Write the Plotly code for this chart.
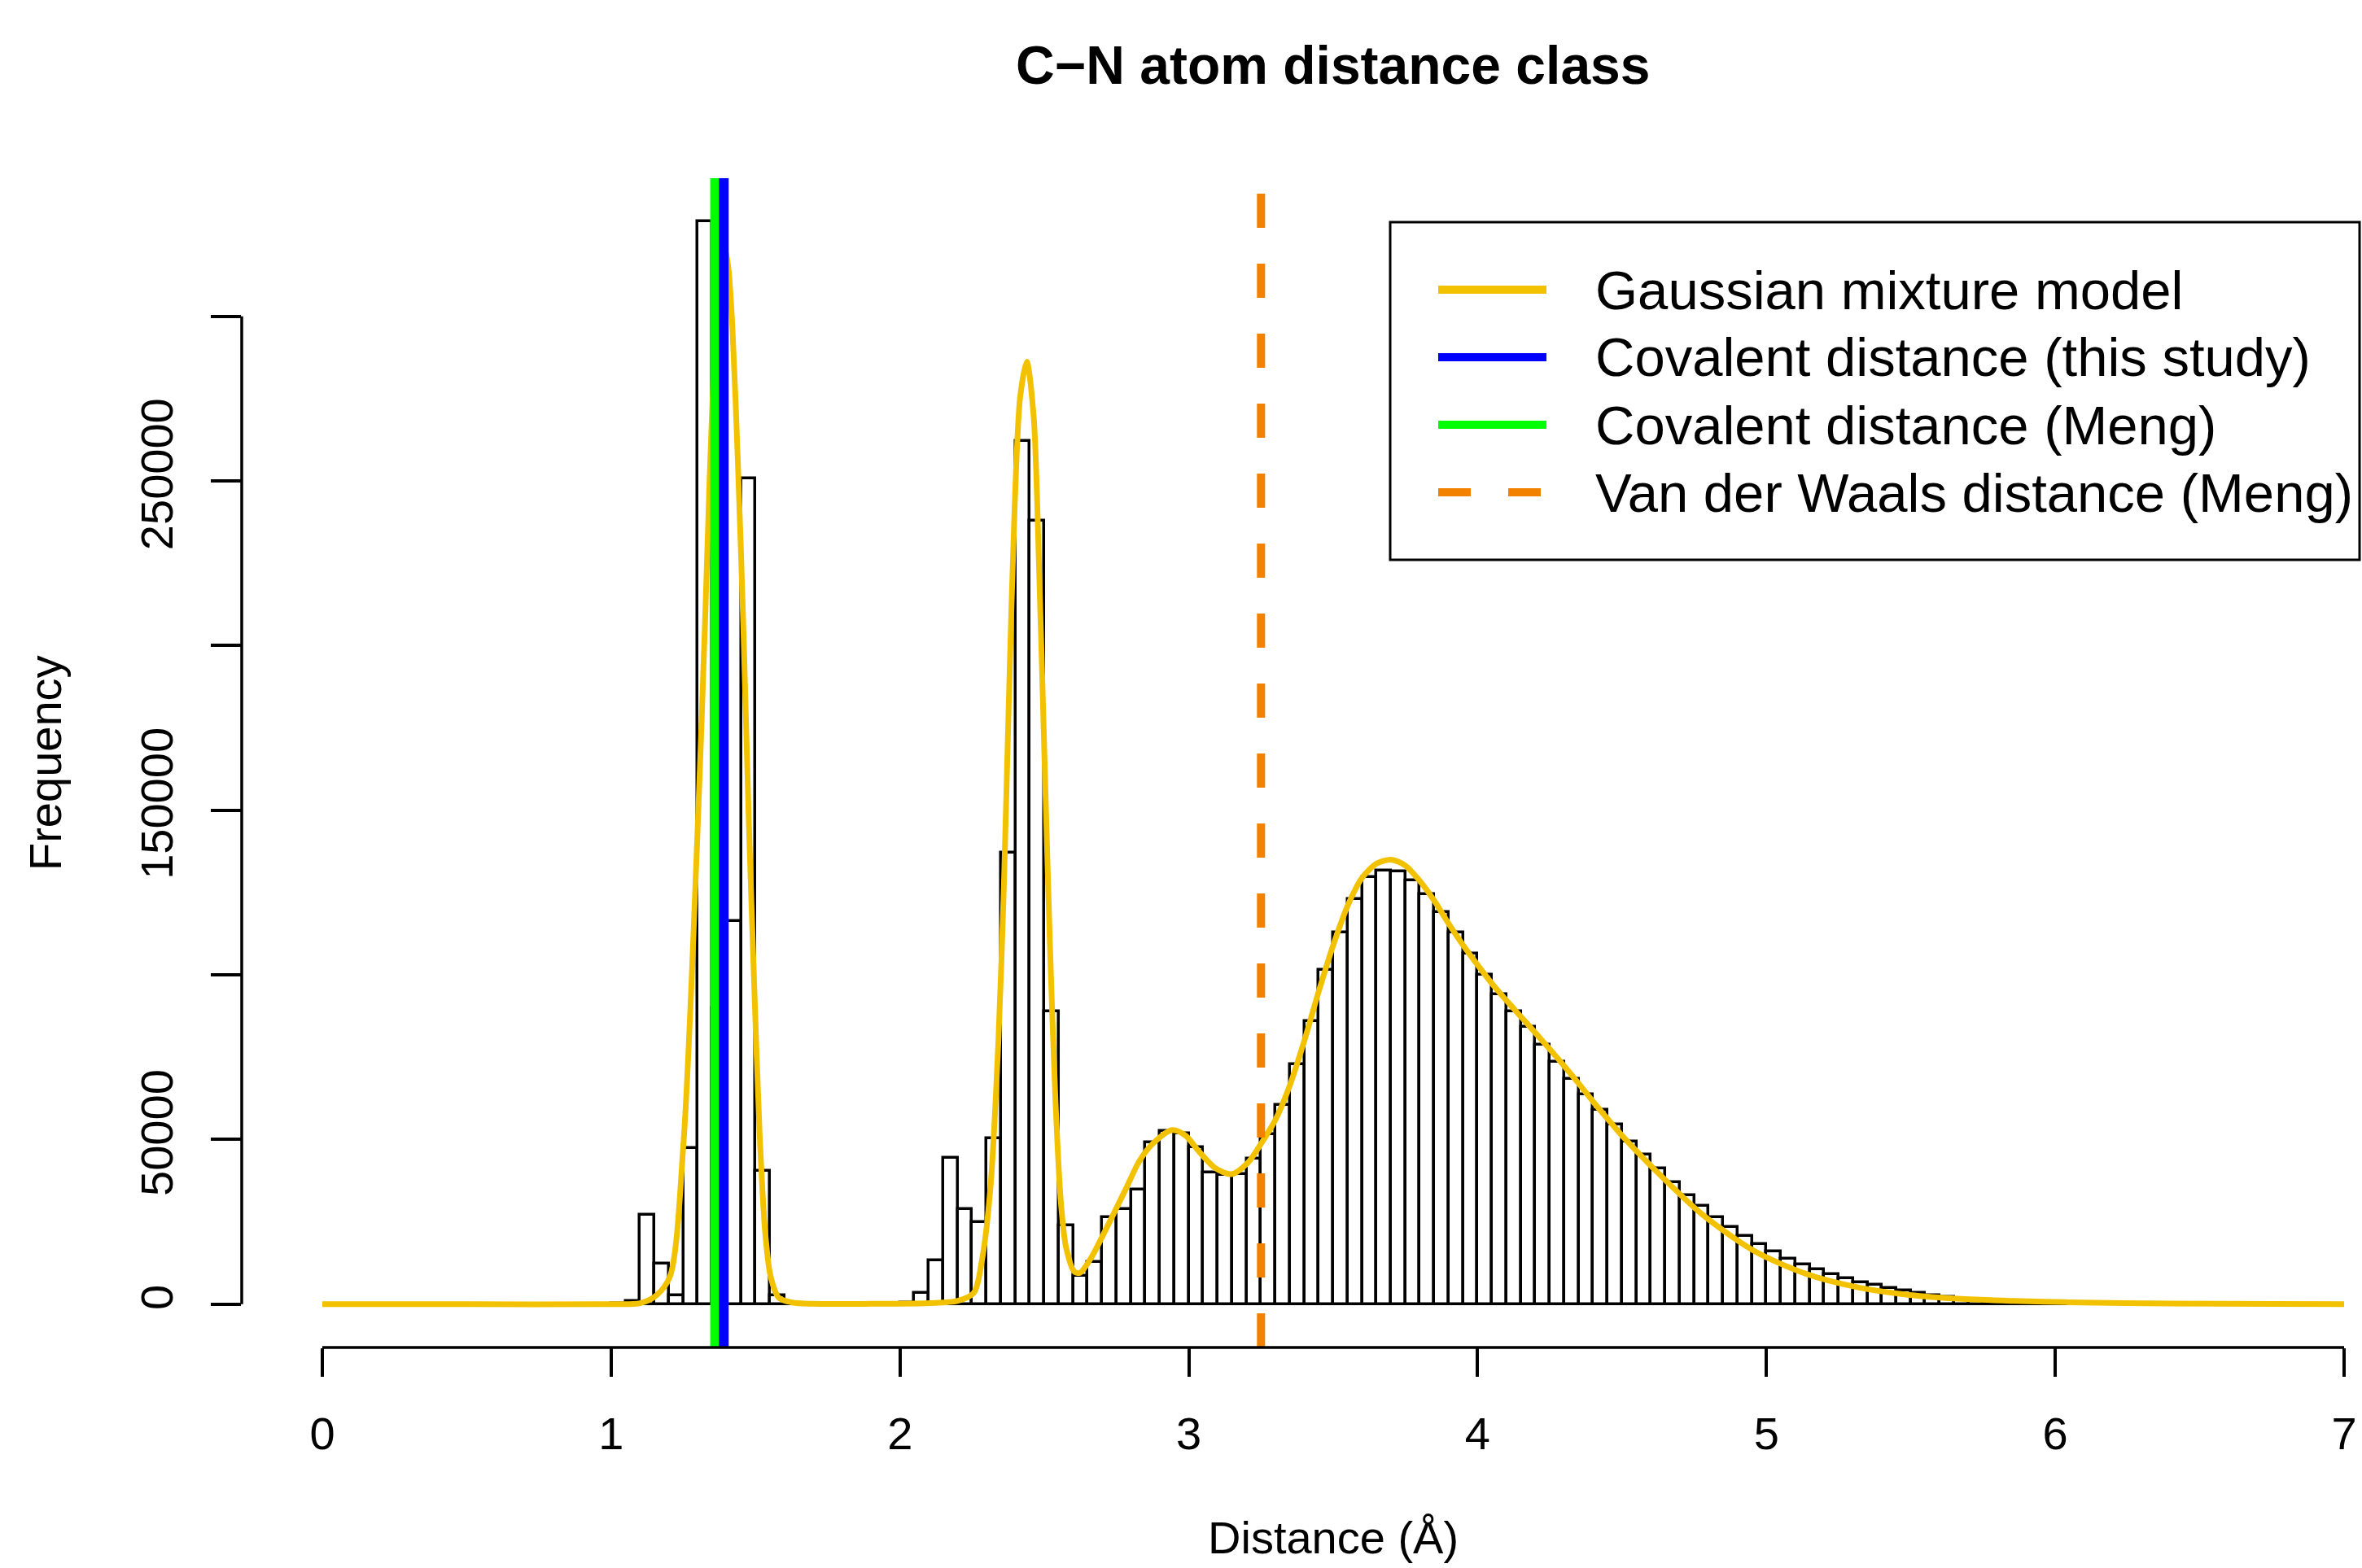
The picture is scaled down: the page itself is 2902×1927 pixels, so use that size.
import numpy as np
import plotly.graph_objects as go

# ---------------- data ----------------
bin_width = 0.05
first_bin_left = 1.00
# histogram counts, bins of 0.05 Å starting at 1.00 Å
counts = [
    200, 1000, 27200, 12300, 2700, 47300, 328800, 90000, 116300, 250700,   # 1.00-1.45
    40400, 2700, 300, 100, 50, 50, 50, 100, 100, 200,                      # 1.50-1.95
    400, 3500, 13400, 44500, 28800, 24800, 50400, 137100, 262200, 238000,  # 2.00-2.45
    88800, 24000, 8600, 12900, 26300, 28800, 34800, 49200, 52600, 51900,   # 2.50-2.95
    47700, 39900, 39300, 39500, 44100, 51700, 60600, 72800, 86000, 101600, # 3.00-3.45
    113000, 122900, 129700, 131600, 131500, 128700, 124600, 119000, 112800, 106400,  # 3.50-3.95
    100000, 94100, 89000, 84200, 78800, 73700, 68400, 63800, 59100, 54500, # 4.00-4.45
    49400, 45300, 41300, 37100, 33100, 29800, 26500, 23400, 20600, 18300,  # 4.50-4.95
    16000, 13800, 12100, 10600, 9100, 7900, 6700, 5800, 4900, 4100,        # 5.00-5.45
    3300, 2700, 2100, 1500, 1100, 800, 600, 450, 330, 250,                 # 5.50-5.95
    180, 130, 90, 60,                                                      # 6.00-6.15
]

# Gaussian mixture model curve
gmm_x = [0.0, 0.5, 1.0, 1.1, 1.157, 1.204, 1.251, 1.298, 1.326, 1.341, 1.36, 1.38, 1.395,
         1.406, 1.42, 1.439, 1.458, 1.477, 1.496, 1.514, 1.533, 1.552, 1.58, 1.627, 1.7,
         1.9, 2.1, 2.2, 2.256, 2.284, 2.313, 2.341, 2.36, 2.378, 2.397, 2.416, 2.439, 2.463,
         2.482, 2.5, 2.519, 2.538, 2.557, 2.575, 2.604, 2.623, 2.66, 2.698, 2.735, 2.782,
         2.829, 2.876, 2.942, 2.989, 3.036, 3.092, 3.148, 3.205, 3.25, 3.30, 3.35, 3.40,
         3.45, 3.50, 3.55, 3.60, 3.65, 3.70, 3.75, 3.80, 3.85, 3.90, 3.95, 4.00,
         4.05, 4.10, 4.15, 4.20, 4.25, 4.30, 4.35, 4.40, 4.45, 4.50, 4.598, 4.777,
         4.957, 5.137, 5.317, 5.496, 5.676, 5.856, 6.035, 6.4, 7.0]
gmm_y = [0, 0, 0, 300, 2700, 8500, 49600, 141000, 209500, 250700, 292000, 315000, 319500,
         314600, 296400, 255200, 205000, 145600, 95300, 51900, 22200, 8500, 2000, 500, 100,
         100, 300, 1000, 3500, 13400, 35100, 80400, 127700, 186800, 241900, 275400, 286200, 269500,
         222200, 167100, 109900, 62600, 31100, 17300, 9850, 9500, 13800, 20100, 26600, 35000,
         43500, 48800, 52900, 51200, 46300, 41300, 39500, 43000, 48700, 56000, 66500, 80000,
         95000, 109000, 121000, 129500, 133800, 135000, 133200, 128500, 122500, 115500, 109000, 103000,
         97300, 92200, 87300, 82400, 77400, 72300, 67000, 61500, 56300, 51200, 42200, 27300,
         16200, 9200, 5100, 2800, 1600, 1000, 600, 200, 0]

covalent_this_study = 1.39
covalent_meng = 1.36
vdw_meng = 3.25

x_ticks = [0, 1, 2, 3, 4, 5, 6, 7]
x_tick_labels = ["0", "1", "2", "3", "4", "5", "6", "7"]
y_ticks = [0, 50000, 100000, 150000, 200000, 250000, 300000]
y_tick_labels = ["0", "50000", "", "150000", "", "250000", ""]

legend_labels = ["Gaussian mixture model", "Covalent distance (this study)",
                 "Covalent distance (Meng)", "Van der Waals distance (Meng)"]

title_text = "C\u2212N atom distance class"
x_title = "Distance (Å)"
y_title = "Frequency"

# ---------------- styling / layout ----------------
GOLD = "#F2C200"
BLUE = "#0000FF"
GREEN = "#00FF00"
ORANGE = "#F28100"
FONT = "Liberation Sans, Arial, Helvetica, sans-serif"

W, H = 2902, 1927
L, R, T, B = 297, 0, 219, 271
plot_w = W - L - R
plot_h = H - T - B
px_per_unit = 354.86
x_zero_px = 396
xmin = (L - x_zero_px) / px_per_unit
xmax = xmin + plot_w / px_per_unit
ymax_data = max(counts)
y_range = [-0.04 * ymax_data, 1.04 * ymax_data]


def paper(xpx, ypx):
    return (xpx - L) / plot_w, (H - B - ypx) / plot_h


bin_left = first_bin_left + bin_width * np.arange(len(counts))
bin_centers = bin_left + bin_width / 2

fig = go.Figure()
fig.add_trace(go.Bar(
    x=bin_centers, y=counts, width=bin_width,
    marker=dict(color="white", line=dict(color="black", width=3.5)),
    showlegend=False, hoverinfo="skip"))
fig.add_trace(go.Scatter(
    x=gmm_x, y=gmm_y, mode="lines",
    line=dict(color=GOLD, width=7, shape="spline", smoothing=0.8),
    showlegend=False, hoverinfo="skip"))

shapes = []
# vertical reference lines
shapes.append(dict(type="line", xref="x", yref="paper", x0=covalent_meng, x1=covalent_meng,
                   y0=0, y1=1, line=dict(color=GREEN, width=12), layer="above"))
shapes.append(dict(type="line", xref="x", yref="paper", x0=covalent_this_study, x1=covalent_this_study,
                   y0=0, y1=1, line=dict(color=BLUE, width=12), layer="above"))
shapes.append(dict(type="line", xref="x", yref="paper", x0=vdw_meng, x1=vdw_meng,
                   y0=0, y1=1, line=dict(color=ORANGE, width=10, dash="42px,44px"), layer="above"))
# R-style axis lines (only between first and last tick)
shapes.append(dict(type="line", xref="x", yref="paper", x0=x_ticks[0], x1=x_ticks[-1],
                   y0=0, y1=0, line=dict(color="black", width=3.5), layer="above"))
shapes.append(dict(type="line", xref="paper", yref="y", x0=0, x1=0,
                   y0=y_ticks[0], y1=y_ticks[-1], line=dict(color="black", width=3.5), layer="above"))

# legend box
bx0, by0 = paper(1708, 273)
bx1, by1 = paper(2899, 688)
shapes.append(dict(type="rect", xref="paper", yref="paper", x0=bx0, x1=bx1, y0=by1, y1=by0,
                   line=dict(color="black", width=3), fillcolor="white", layer="above"))
legend_rows_px = [356, 439, 522, 605]
legend_styles = [(GOLD, None), (BLUE, None), (GREEN, None), (ORANGE, "40px,46px")]
annotations = []
for label, ypx, (col, dash) in zip(legend_labels, legend_rows_px, legend_styles):
    lx0, ly = paper(1767, ypx)
    lx1, _ = paper(1900, ypx)
    ln = dict(color=col, width=10)
    if dash:
        ln["dash"] = dash
    shapes.append(dict(type="line", xref="paper", yref="paper", x0=lx0, x1=lx1, y0=ly, y1=ly,
                       line=ln, layer="above"))
    tx, _ = paper(1958, ypx)
    annotations.append(dict(text=label, xref="paper", yref="paper", x=tx, y=ly,
                            xanchor="left", yanchor="middle", showarrow=False,
                            font=dict(family=FONT, size=67, color="black")))

# titles
tx, ty = paper(1638, 80)
annotations.append(dict(text="<b>" + title_text + "</b>", xref="paper", yref="paper", x=tx, y=ty,
                        xanchor="center", yanchor="middle", showarrow=False,
                        font=dict(family=FONT, size=66, color="black")))
tx, ty = paper(1638, 1889)
annotations.append(dict(text=x_title, xref="paper", yref="paper", x=tx, y=ty,
                        xanchor="center", yanchor="middle", showarrow=False,
                        font=dict(family=FONT, size=56, color="black")))
tx, ty = paper(56, 938)
annotations.append(dict(text=y_title, xref="paper", yref="paper", x=tx, y=ty, textangle=-90,
                        xanchor="center", yanchor="middle", showarrow=False,
                        font=dict(family=FONT, size=56, color="black")))

fig.update_layout(
    width=W, height=H,
    margin=dict(l=L, r=R, t=T, b=B, pad=0),
    paper_bgcolor="white", plot_bgcolor="white",
    bargap=0, showlegend=False,
    shapes=shapes, annotations=annotations,
    xaxis=dict(range=[xmin, xmax], tickvals=x_ticks, ticktext=x_tick_labels,
               ticks="outside", ticklen=35, tickwidth=3.5, tickcolor="black",
               showline=False, showgrid=False, zeroline=False, ticklabelstandoff=22,
               tickfont=dict(family=FONT, size=56, color="black")),
    yaxis=dict(range=y_range, tickvals=y_ticks, ticktext=y_tick_labels, tickangle=-90,
               ticks="outside", ticklen=37, tickwidth=3.5, tickcolor="black",
               showline=False, showgrid=False, zeroline=False, ticklabelstandoff=25,
               tickfont=dict(family=FONT, size=56, color="black")),
)

fig.write_html("out.html", config={"displayModeBar": False},
               post_script="document.body.style.margin='0';document.body.style.overflow='hidden';")
